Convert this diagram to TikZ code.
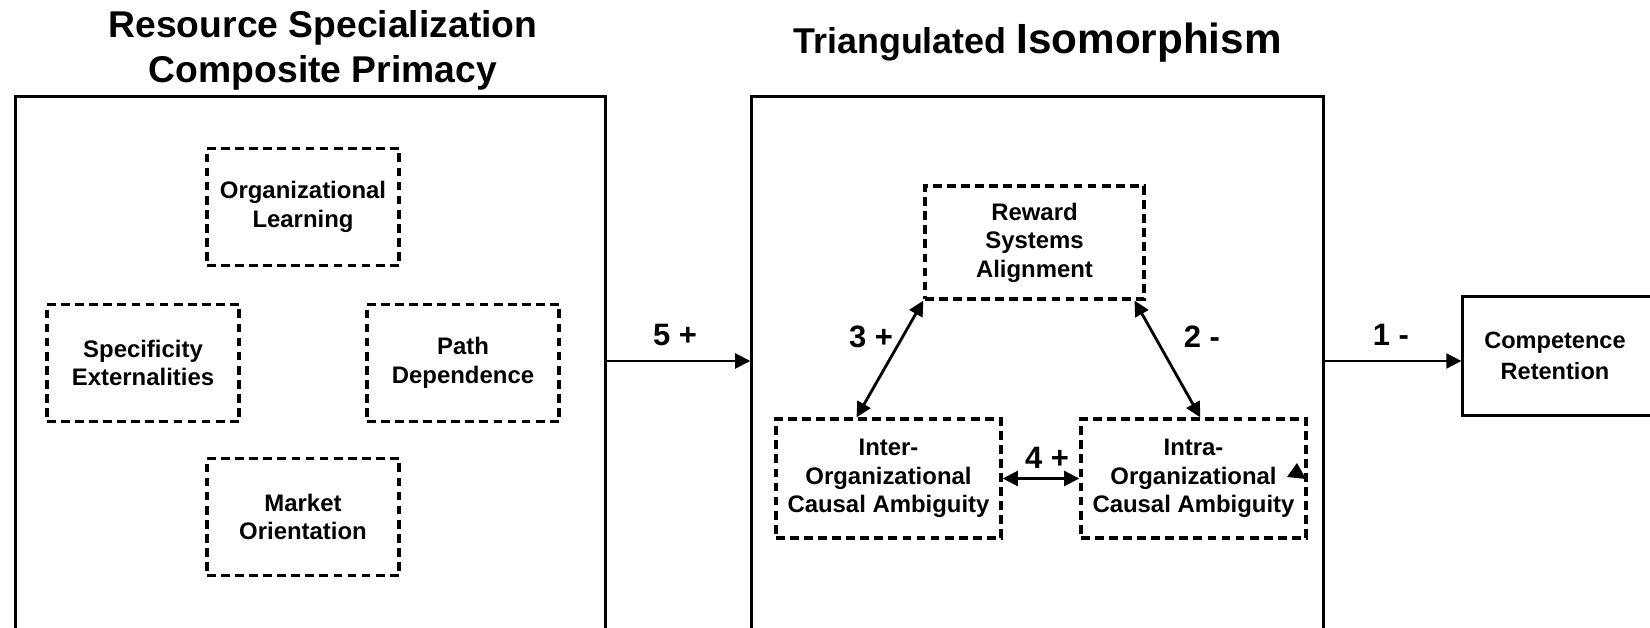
\documentclass[tikz,border=0pt]{standalone}
\usepackage{fontspec}
\setmainfont{Liberation Sans}
\usetikzlibrary{arrows.meta, calc}
\tikzset{bigbox/.style = {draw, line width = 0.85pt, inner sep = 0},
  dbox/.style = {draw, line width = 0.9pt, dash pattern = on 2.5pt off 1.5pt, align = center, inner sep = 0,
    font = \fontsize{6.8}{8.1}\selectfont\bfseries},
  lbl/.style = {font = \fontsize{8.8}{10}\selectfont\bfseries},
  arr/.style = {line width = 0.8pt, -{Triangle[length = 4.3pt, width = 4.2pt]}},
  dblarr/.style = {line width = 0.8pt, {Triangle[length = 4.3pt, width = 4.2pt]}-{Triangle[length = 4.3pt, width = 4.2pt]}}}

\begin{document}
\begin{tikzpicture}[x = 0.01cm, y = -0.01cm]
    \clip (0, 0) rectangle (1650, 628);
    % titles
    \node at (323, 50) [align = center, font = \fontsize{10.6}{12.8}\selectfont\bfseries] (rsctitle) {Resource Specialization\\Composite Primacy};
    \node at (1037.5, 43) [font = \bfseries] (isotitle) {\fontsize{10.2}{12}\selectfont Triangulated \fontsize{12}{14}\selectfont Isomorphism};
    % big boxes
    \node at (310.5, 392) [bigbox, minimum width = 5.89cm, minimum height = 5.9cm] (rsc) {};
    \node at (1037.5, 392) [bigbox, minimum width = 5.71cm, minimum height = 5.9cm] (iso) {};
    \node at (1573, 356) [bigbox, minimum width = 2.2cm, minimum height = 1.18cm,
      label = {[align = center, xshift = -0.18cm, font = \fontsize{6.7}{8.7}\selectfont\bfseries]center:{Competence\\Retention}}] (retention) {};
    % resource specialization
    \node at (303, 207) [dbox, minimum width = 1.92cm, minimum height = 1.17cm] (orglearn) {Organizational\\Learning};
    \node at (143, 363) [dbox, minimum width = 1.92cm, minimum height = 1.17cm] (specext) {Specificity\\Externalities};
    \node at (463, 363) [dbox, minimum width = 1.92cm, minimum height = 1.17cm] (pathdep) {Path\\Dependence};
    \node at (303, 517) [dbox, minimum width = 1.92cm, minimum height = 1.17cm] (mktorient) {Market\\Orientation};
    % isomorphism
    \node at (1034.5, 242.5) [dbox, minimum width = 2.19cm, minimum height = 1.13cm] (reward) {Reward\\Systems\\Alignment};
    \node at (888.5, 478.5) [dbox, minimum width = 2.25cm, minimum height = 1.19cm] (inter) {Inter-\\Organizational\\Causal Ambiguity};
    \node at (1193.5, 478.5) [dbox, minimum width = 2.25cm, minimum height = 1.19cm] (intra) {Intra-\\Organizational\\Causal Ambiguity};
    % arrows
    \coordinate (arrowrow) at (0, 361);
    \draw [arr] (rsc.east |- arrowrow) -- (iso.west |- arrowrow);
    \draw [arr] (iso.east |- arrowrow) -- (retention.west |- arrowrow);
    \draw [dblarr] (reward.south west) -- ($(inter.north west)!0.36!(inter.north east)$);
    \draw [dblarr] ($(reward.south west)!0.95!(reward.south east)$) -- ($(intra.north west)!0.53!(intra.north east)$);
    \draw [dblarr] (inter) -- (intra);
    \fill (1297, 463) -- (1287, 477) -- (1306, 479) -- cycle;
    % labels
    \node at (675, 335) [lbl] (five) {5 +};
    \node at (1391, 335) [lbl] (one) {1 -};
    \node at (871, 337) [lbl] (three) {3 +};
    \node at (1202, 337) [lbl] (two) {2 -};
    \node at (1047, 458) [lbl] (four) {4 +};
\end{tikzpicture}
\end{document}
